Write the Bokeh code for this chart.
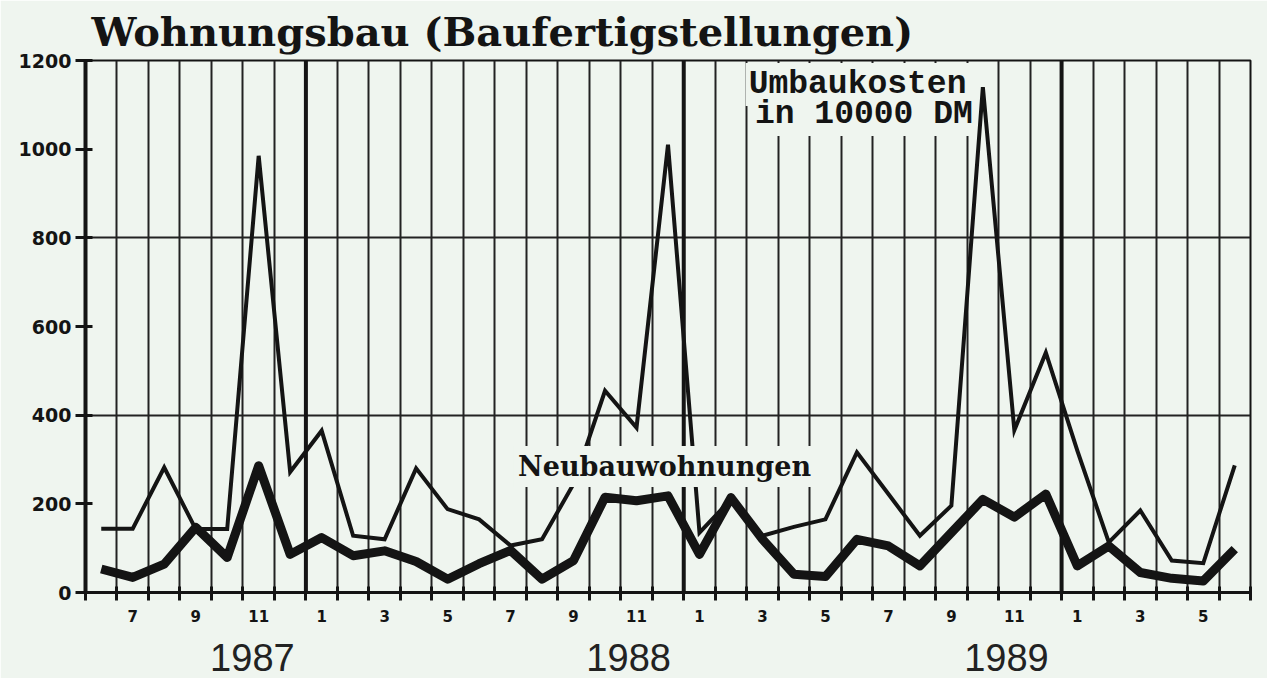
from bokeh.plotting import figure
from bokeh.models import (FixedTicker, LinearAxis, Range1d, Span, Label, Title, Grid,
                          ColumnDataSource)
from bokeh.embed import file_html
from bokeh.resources import INLINE

# ---- data (monthly, June 1986 .. June 1989) ----
month_numbers = [6, 7, 8, 9, 10, 11, 12, 1, 2, 3, 4, 5,
                 6, 7, 8, 9, 10, 11, 12, 1, 2, 3, 4, 5,
                 6, 7, 8, 9, 10, 11, 12, 1, 2, 3, 4, 5, 6]
umbaukosten = [144, 144, 282, 143, 143, 985, 272, 365, 128, 120, 280, 188,
               165, 106, 120, 245, 455, 372, 1010, 135, 210, 128, 148, 165,
               316, 222, 128, 196, 1140, 366, 541, 320, 113, 185, 72, 66, 287]
neubauwohnungen = [53, 34, 64, 147, 79, 286, 86, 124, 83, 94, 70, 30,
                   65, 95, 30, 72, 215, 207, 218, 86, 214, 120, 41, 36,
                   120, 105, 60, 135, 210, 170, 222, 60, 105, 45, 32, 26, 98]
year_labels = ["1987", "1988", "1989"]
year_positions = [5.3, 17.25, 29.25]
y_ticks = [0, 200, 400, 600, 800, 1000, 1200]

BG = "#eff5ef"
INK = "#141414"

n = len(month_numbers)
xs = [i + 0.5 for i in range(n)]
src = ColumnDataSource(dict(x=xs, umbau=umbaukosten, neubau=neubauwohnungen))

p = figure(width=1267, height=678, x_range=Range1d(0, n), y_range=Range1d(0, 1200),
           output_backend="svg", toolbar_location=None,
           x_axis_type=None, y_axis_type=None,
           min_border_left=85, min_border_right=17, min_border_top=0, min_border_bottom=86,
           background_fill_color=BG, border_fill_color=BG,
           outline_line_color=INK, outline_line_width=2)

# title
p.title = Title(text="Wohnungsbau (Baufertigstellungen)", align="left", offset=6,
                text_font="DejaVu Serif", text_font_style="bold", text_font_size="40px",
                text_color=INK, standoff=11)

# grids
boundaries = list(range(1, n))
p.add_layout(Grid(dimension=0, ticker=FixedTicker(ticks=boundaries),
                  grid_line_color="#222222", grid_line_width=2))
p.add_layout(Grid(dimension=1, ticker=FixedTicker(ticks=[400, 800]),
                  grid_line_color="#222222", grid_line_width=2))
for i in range(1, n):
    if month_numbers[i] == 1:
        p.add_layout(Span(location=i, dimension="height", line_color=INK, line_width=4))

# y axis
yax = LinearAxis(ticker=FixedTicker(ticks=y_ticks),
                 axis_line_width=4, axis_line_color=INK,
                 major_tick_in=7, major_tick_out=10, major_tick_line_width=3,
                 major_tick_line_color=INK, minor_tick_line_color=None,
                 major_label_standoff=4,
                 major_label_text_font="DejaVu Sans", major_label_text_font_style="bold",
                 major_label_text_font_size="19px", major_label_text_color=INK)
p.add_layout(yax, "left")

# month axis
label_pos = [xs[i] for i in range(n) if month_numbers[i] % 2 == 1]
overrides = {xs[i]: str(month_numbers[i]) for i in range(n) if month_numbers[i] % 2 == 1}
xax = LinearAxis(ticker=FixedTicker(ticks=label_pos, minor_ticks=list(range(0, n + 1))),
                 axis_line_width=3, axis_line_color=INK,
                 major_tick_line_color=None, major_tick_in=0, major_tick_out=8,
                 minor_tick_line_color=INK, minor_tick_line_width=3,
                 minor_tick_in=6, minor_tick_out=8,
                 major_label_overrides=overrides, major_label_standoff=9,
                 major_label_text_font="DejaVu Sans", major_label_text_font_style="bold",
                 major_label_text_font_size="15px", major_label_text_color=INK)
p.add_layout(xax, "below")

# year axis
yr = LinearAxis(ticker=FixedTicker(ticks=year_positions, minor_ticks=[]),
                axis_line_color=None, major_tick_line_color=None, minor_tick_line_color=None,
                major_tick_in=0, major_tick_out=0,
                major_label_overrides={pos: lab for pos, lab in zip(year_positions, year_labels)},
                major_label_standoff=19,
                major_label_text_font="Liberation Sans", major_label_text_font_size="38px",
                major_label_text_color="#222222")
p.add_layout(yr, "below")

# series
p.line("x", "umbau", source=src, line_width=4, line_color=INK, line_join="miter")
p.line("x", "neubau", source=src, line_width=9, line_color=INK, line_join="round")

# annotations
p.add_layout(Label(x=18.39, y=284, text="Neubauwohnungen", text_align="center",
                   text_baseline="middle", text_font="DejaVu Serif", text_font_style="bold",
                   text_font_size="27px", text_color=INK,
                   background_fill_color=BG, padding=5))
p.add_layout(Label(x=24.52, y=1146, text="Umbaukosten", text_align="center",
                   text_baseline="middle", text_font="Liberation Mono", text_font_style="bold",
                   text_font_size="33px", text_color=INK,
                   background_fill_color=BG, padding=3))
p.add_layout(Label(x=24.72, y=1078, text="in 10000 DM", text_align="center",
                   text_baseline="middle", text_font="Liberation Mono", text_font_style="bold",
                   text_font_size="33px", text_color=INK,
                   background_fill_color=BG, padding=3))

open("out.html", "w").write(file_html(p, INLINE))
